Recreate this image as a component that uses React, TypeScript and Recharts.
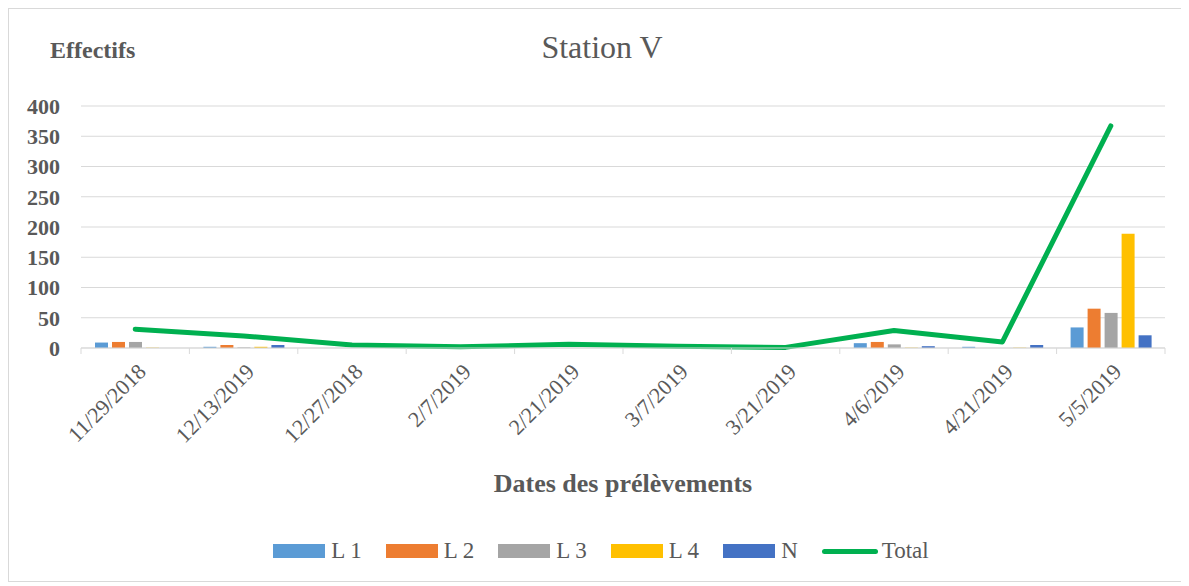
import React from "react";
import {
  ComposedChart, Bar, Line, XAxis, YAxis, CartesianGrid, Legend,
} from "recharts";

const categories = [
  "11/29/2018", "12/13/2019", "12/27/2018", "2/7/2019", "2/21/2019",
  "3/7/2019", "3/21/2019", "4/6/2019", "4/21/2019", "5/5/2019",
];
const l1 = [9, 2, 0, 0, 0, 0, 0, 8, 2, 34];
const l2 = [10, 5, 0, 0, 0, 0, 0, 10, 0, 65];
const l3 = [10, 1, 0, 0, 0, 0, 0, 6, 0, 58];
const l4 = [0.5, 2, 0, 0, 0, 0, 0, 0.5, 0.5, 189];
const nn = [0, 5, 0, 0, 0, 0, 0, 3, 5, 21];
const total = [31, 20, 5, 2, 6, 3, 1, 29, 10, 367];
const yTicks = [0, 50, 100, 150, 200, 250, 300, 350, 400];

const series = [
  { key: "l1", name: "L 1", color: "#5b9bd5" },
  { key: "l2", name: "L 2", color: "#ed7d31" },
  { key: "l3", name: "L 3", color: "#a5a5a5" },
  { key: "l4", name: "L 4", color: "#ffc000" },
  { key: "n", name: "N", color: "#4472c4" },
];

const data = categories.map((date, i) => ({
  date, l1: l1[i], l2: l2[i], l3: l3[i], l4: l4[i], n: nn[i], total: total[i],
}));

const FONT = "'Liberation Serif', 'Times New Roman', serif";
const TEXT = "#595959";

// rotated date label + tick marks on the category boundaries (Excel style)
function DateTick({ x, y, payload, index, visibleTicksCount }: any) {
  const half = payload?.offset ?? 0;
  const last = index === visibleTicksCount - 1;
  return (
    <g>
      <line x1={x - half} x2={x - half} y1={y - 8} y2={y - 2} stroke="#d9d9d9" />
      {last && <line x1={x + half} x2={x + half} y1={y - 8} y2={y - 2} stroke="#d9d9d9" />}
      <text
        x={x + 12}
        y={y + 17}
        transform={`rotate(-45, ${x + 12}, ${y + 17})`}
        textAnchor="end"
        fontFamily={FONT}
        fontSize={22}
        fill={TEXT}
      >
        {payload.value}
      </text>
    </g>
  );
}

function LegendBox({ payload }: any) {
  return (
    <div style={{ display: "flex", justifyContent: "center", alignItems: "center", fontFamily: FONT, fontSize: 23, color: TEXT, paddingLeft: 52 }}>
      {(payload || []).map((p: any) => (
        <div key={p.value} style={{ display: "flex", alignItems: "center", marginRight: 24 }}>
          {p.type === "line" ? (
            <span style={{ width: 56, height: 5, borderRadius: 3, background: p.color, marginRight: 4 }} />
          ) : (
            <span style={{ width: 52, height: 14, background: p.color, marginRight: 6 }} />
          )}
          <span>{p.value}</span>
        </div>
      ))}
    </div>
  );
}

export default function App() {
  return (
    <div style={{ position: "relative", width: 1172, height: 572, border: "1px solid #d9d9d9", background: "#fff" }}>
      <div style={{ position: "absolute", left: 0, width: 1186, top: 20, textAlign: "center", fontFamily: FONT, fontSize: 32, color: TEXT }}>
        Station V
      </div>
      <div style={{ position: "absolute", left: 41, top: 28, fontFamily: FONT, fontSize: 24, fontWeight: "bold", color: TEXT }}>
        Effectifs
      </div>
      <ComposedChart
        width={1172}
        height={572}
        data={data}
        margin={{ top: 97, right: 16, left: 0, bottom: 3 }}
        barSize={13}
        barGap={4}
      >
        <CartesianGrid vertical={false} stroke="#d9d9d9" />
        <XAxis
          dataKey="date"
          interval={0}
          axisLine={{ stroke: "#d9d9d9" }}
          tickLine={false}
          tick={<DateTick />}
          height={190}
          label={{
            value: "Dates des prélèvements",
            position: "insideBottom",
            offset: 46,
            fontFamily: FONT,
            fontSize: 26,
            fontWeight: "bold",
            fill: TEXT,
          }}
        />
        <YAxis
          domain={[0, 400]}
          ticks={yTicks}
          interval={0}
          axisLine={false}
          tickLine={false}
          tickSize={0}
          tickMargin={21}
          width={72}
          tick={{ fontFamily: FONT, fontSize: 22, fontWeight: "bold", fill: TEXT }}
        />
        <Legend verticalAlign="bottom" height={40} content={<LegendBox />} />
        {series.map((s) => (
          <Bar key={s.key} dataKey={s.key} name={s.name} fill={s.color} legendType="rect" isAnimationActive={false} />
        ))}
        <Line
          dataKey="total"
          name="Total"
          type="linear"
          stroke="#00b050"
          strokeWidth={5}
          strokeLinecap="round"
          strokeLinejoin="round"
          dot={false}
          activeDot={false}
          legendType="line"
          isAnimationActive={false}
        />
      </ComposedChart>
    </div>
  );
}
